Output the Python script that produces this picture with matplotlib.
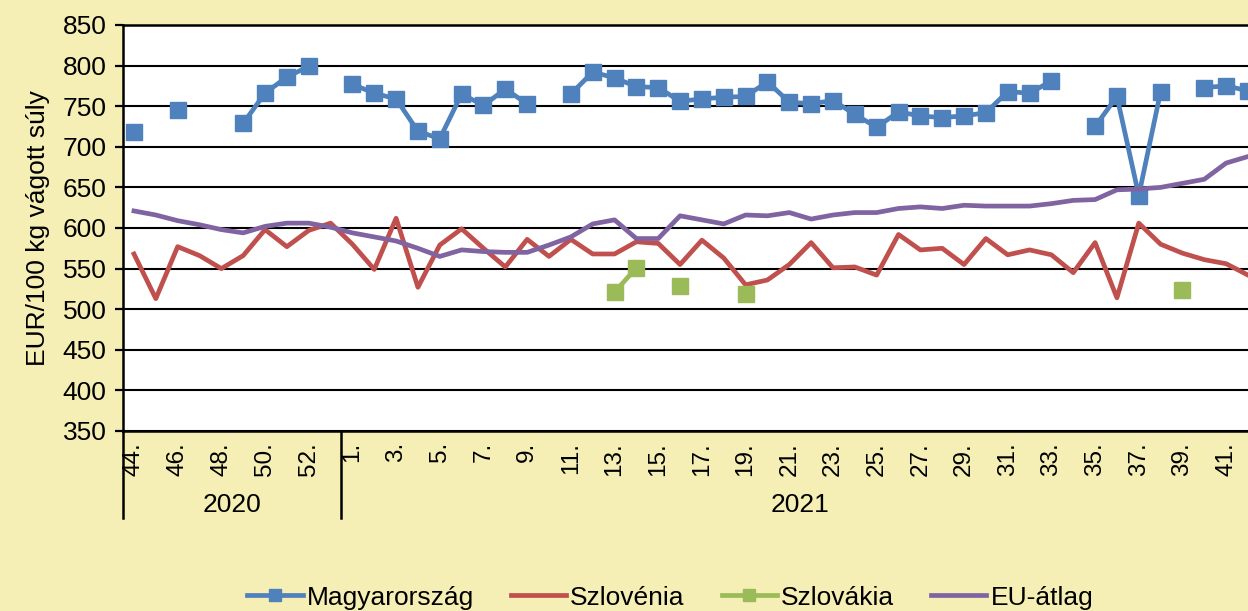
import numpy as np
import matplotlib.pyplot as plt

plt.rcParams['font.family'] = ['Liberation Sans', 'DejaVu Sans']

nan = np.nan

# weeks: 2020/44 .. 2020/53, then 2021/1 .. 2021/42
weeks_2020 = list(range(44, 54))
weeks_2021 = list(range(1, 43))
years = ['2020', '2021']

magyar = [718, nan, 745, nan, nan, 729, 766, 786, 799, nan,
          777, 766, 759, 719, 710, 765, 751, 771, 753, nan,
          765, 792, 785, 774, 773, 756, 759, 761, 762, 780,
          755, 753, 757, 740, 724, 743, 738, 736, 738, 742,
          768, 766, 781, nan, 725, 762, 640, 768, nan, 773,
          775, 769]

szlovenia = [568, 513, 577, 566, 550, 566, 598, 577, 597, 606,
             580, 549, 612, 527, 579, 599, 575, 552, 586, 565,
             586, 568, 568, 583, 581, 555, 585, 563, 530, 536,
             555, 582, 551, 552, 542, 592, 573, 575, 555, 587,
             567, 573, 567, 545, 582, 514, 606, 580, 569, 561,
             556, 542]

szlovakia = [nan] * 52
szlovakia[22] = 521
szlovakia[23] = 551
szlovakia[25] = 528
szlovakia[28] = 519
szlovakia[48] = 524

eu_atlag = [621, 616, 609, 604, 598, 594, 602, 606, 606, 601,
            594, 589, 584, 575, 565, 573, 571, 570, 570, 579,
            589, 605, 610, 587, 587, 615, 610, 605, 616, 615,
            619, 611, 616, 619, 619, 624, 626, 624, 628, 627,
            627, 627, 630, 634, 635, 647, 648, 650, 655, 660,
            680, 688]

week_labels = [f'{w}.' for w in weeks_2020 + weeks_2021]
x = np.arange(len(week_labels))

bg = '#F5EFB5'
fig = plt.figure(figsize=(12.48, 6.11), dpi=100, facecolor=bg)
ax = fig.add_axes([0.0986, 0.2946, 0.9014, 0.6645])
ax.set_facecolor('white')

ax.plot(x, magyar, color='#4F81BD', lw=3.4, marker='s', ms=11,
        label='Magyarország')
ax.plot(x, szlovenia, color='#C0504D', lw=3.4, label='Szlovénia')
ax.plot(x, szlovakia, color='#9BBB59', lw=3.4, marker='s', ms=11,
        label='Szlovákia')
ax.plot(x, eu_atlag, color='#8064A2', lw=3.4, label='EU-átlag')

ax.set_ylim(350, 850)
ax.set_yticks(range(350, 851, 50))
ax.set_xlim(-0.5, 51.0)
ax.yaxis.grid(True, color='black', lw=1.5)
ax.set_axisbelow(True)

for s in ['right', 'top']:
    ax.spines[s].set_visible(False)
for s in ['left', 'bottom']:
    ax.spines[s].set_color('black')
    ax.spines[s].set_linewidth(1.8)
ax.axhline(850, color='black', lw=1.8, clip_on=False)

ax.tick_params(axis='y', direction='out', length=6, width=1.6,
               labelsize=19, pad=6)
ax.set_xticks(x[::2])
ax.set_xticklabels(week_labels[::2], rotation=90, fontsize=17.5, va='top')
ax.tick_params(axis='x', length=0, pad=8)

ax.set_ylabel('EUR/100 kg vágott súly', fontsize=19, labelpad=9)

# year groups below the week labels
trans = ax.get_xaxis_transform()
for xs in [-0.5, len(weeks_2020) - 0.5]:
    ax.plot([xs, xs], [0, -0.214], color='black', lw=1.8,
            transform=trans, clip_on=False)
groups = [(0, len(weeks_2020) - 1), (len(weeks_2020), len(x) - 1)]
for yr, (a, b) in zip(years, groups):
    ax.text((a + b) / 2, -0.183, yr, transform=trans, ha='center',
            va='center', fontsize=19)

fig.legend(loc='center', bbox_to_anchor=(0.537, 0.022), ncol=4,
           frameon=False, fontsize=19, handlelength=2.1,
           handletextpad=0.15, columnspacing=1.4, markerscale=0.85)

fig.savefig('out.png', dpi=100, facecolor=bg)
